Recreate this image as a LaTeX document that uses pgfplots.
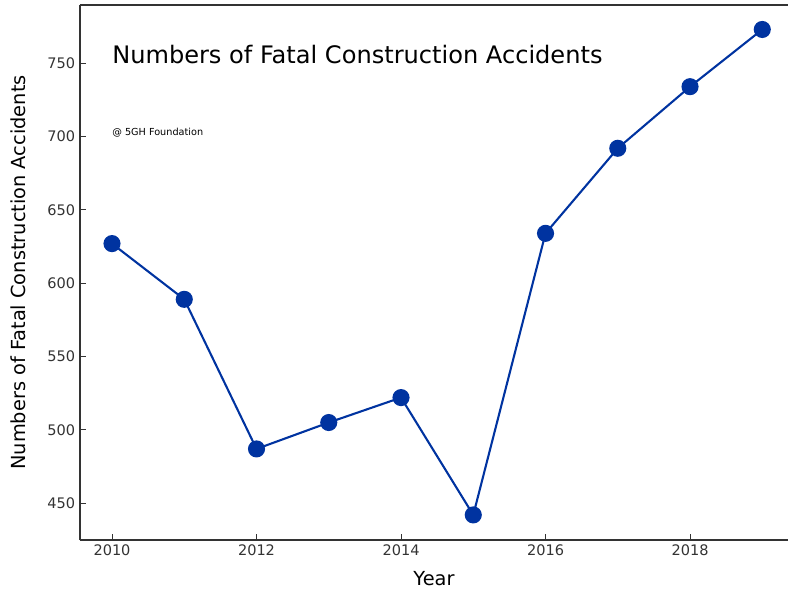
\documentclass[border=0pt]{standalone}
\usepackage{fontspec}
\setmainfont{DejaVu Sans}
\usepackage{pgfplots}
\pgfplotsset{compat=1.18}
\definecolor{lineblue}{RGB}{0,51,160}
\definecolor{spine}{gray}{0.2}
\begin{document}
\begin{tikzpicture}
\begin{axis}[
  scale only axis,
  width=509.76bp, height=385.2bp,
  xmin=2009.557, xmax=2019.356,
  ymin=424.9, ymax=789.7,
  separate axis lines,
  axis x line*=box,
  axis y line*=left,
  axis line style={spine, line width=0.9bp},
  xtick={2010,2012,2014,2016,2018},
  ytick={450,500,550,600,650,700,750},
  tick align=inside,
  xtick pos=bottom, ytick pos=left,
  major tick length=4bp,
  tick style={spine, line width=0.7bp},
  ticklabel style={font=\fontsize{10.5}{12}\selectfont, text=spine},
  /pgf/number format/assume math mode=true,
  /pgf/number format/1000 sep={},
  xlabel={Year},
  ylabel={Numbers of Fatal Construction Accidents},
  label style={font=\fontsize{14}{16}\selectfont},
  xlabel style={yshift=-4bp},
  ylabel style={yshift=9bp},
  clip=false,
]
\addplot[color=lineblue, line width=1.5bp, mark=*, mark size=5.4bp, mark options={fill=lineblue, draw=lineblue}]
coordinates {
(2010,627) (2011,589) (2012,487) (2013,505) (2014,522)
(2015,442) (2016,634) (2017,692) (2018,734) (2019,773)
};
\node[anchor=west, inner sep=0pt, font=\fontsize{17.4}{20}\selectfont] at (axis cs:2010,755.7) {Numbers of Fatal Construction Accidents};
\node[anchor=west, inner sep=0pt, font=\fontsize{7}{8}\selectfont] at (axis cs:2010,702.5) {@ 5GH Foundation};
\end{axis}
\pgfresetboundingbox
\path[use as bounding box] (-57.6bp,-37.44bp) rectangle (509.76bp,388.8bp);
\end{tikzpicture}
\end{document}
